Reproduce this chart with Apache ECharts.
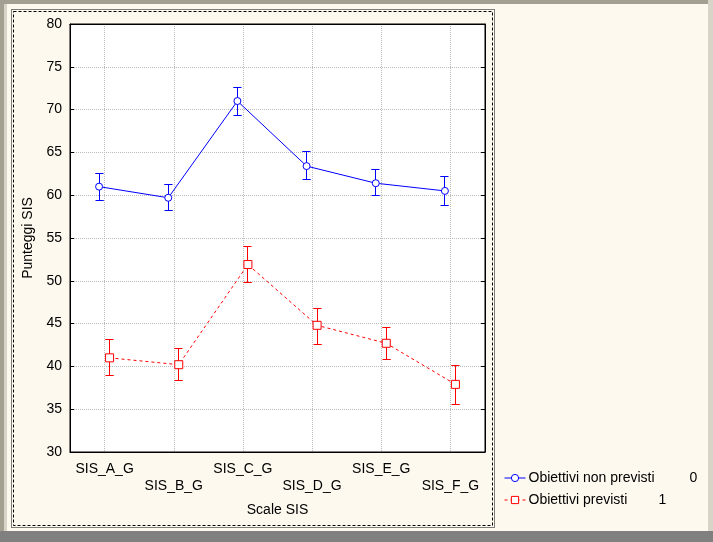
<!DOCTYPE html>
<html>
<head>
<meta charset="utf-8">
<script src="https://cdn.jsdelivr.net/npm/echarts@6/dist/echarts.min.js"></script>
<style>
  html, body { margin: 0; padding: 0; background: #fdf9ef; }
  #chart { width: 713px; height: 542px; }
</style>
</head>
<body>
<div id="chart"></div>
<script>
const categories = ['SIS_A_G', 'SIS_B_G', 'SIS_C_G', 'SIS_D_G', 'SIS_E_G', 'SIS_F_G'];
const yTicks = { min: 30, max: 80, interval: 5 };

const blueName = 'Obiettivi non previsti';
const blueCode = '0';
const blueMean = [61.0, 59.7, 71.0, 63.4, 61.4, 60.5];
const blueLow  = [59.4, 58.2, 69.3, 61.8, 60.0, 58.8];
const blueHigh = [62.5, 61.2, 72.6, 65.1, 63.0, 62.2];

const redName = 'Obiettivi previsti';
const redCode = '1';
const redMean = [41.0, 40.2, 51.9, 44.8, 42.7, 37.9];
const redLow  = [38.9, 38.3, 49.8, 42.6, 40.8, 35.5];
const redHigh = [43.1, 42.1, 54.0, 46.8, 44.5, 40.1];

const FONT = "'Liberation Sans', Arial, sans-serif";
const BLUE = '#0000ff';
const RED = '#ff0000';

const chart = echarts.init(document.getElementById('chart'), null, { renderer: 'canvas' });

function crisp(v) { return Math.round(v - 0.5) + 0.5; }

function errBars(color) {
  return function (params, api) {
    const x = api.value(0);
    const pLo = api.coord([x, api.value(1)]);
    const pHi = api.coord([x, api.value(2)]);
    const cx = crisp(pLo[0]);
    const yLo = crisp(pLo[1]), yHi = crisp(pHi[1]);
    const c = 4;
    return {
      type: 'polyline',
      shape: { points: [[cx - c, yLo], [cx + c, yLo], [cx, yLo], [cx, yHi], [cx - c, yHi], [cx + c, yHi]] },
      style: { stroke: color, fill: null, lineWidth: 1, opacity: 1 }
    };
  };
}

const gTop = 24, gBottom = 90, gLeft = 70, gRight = 228;
const shiftBlue = -5.5, shiftRed = 5;

function hiddenX(gi) {
  return { type: 'category', gridIndex: gi, data: categories, show: false };
}
function hiddenY(gi) {
  return { type: 'value', gridIndex: gi, min: yTicks.min, max: yTicks.max, interval: yTicks.interval, show: false };
}

const gridLine = { show: true, lineStyle: { color: '#bcbcbc', type: [1, 1], width: 1 } };

const option = {
  backgroundColor: '#fdf9ef',
  animation: false,
  textStyle: { fontFamily: FONT },
  graphic: [
    { type: 'rect', shape: { x: 0, y: 0, width: 713, height: 4 }, style: { fill: '#a3a091' }, z: 0 },
    { type: 'rect', shape: { x: 0, y: 0, width: 4, height: 542 }, style: { fill: '#a3a091' }, z: 0 },
    { type: 'rect', shape: { x: 4, y: 4, width: 3, height: 538 }, style: { fill: '#d8d4c8' }, z: 0 },
    { type: 'rect', shape: { x: 708, y: 0, width: 5, height: 542 }, style: { fill: '#d8d4c8' }, z: 0 },
    { type: 'rect', shape: { x: 0, y: 531, width: 713, height: 11 }, style: { fill: '#808080' }, z: 0 },
    { type: 'rect', shape: { x: 11.5, y: 9.5, width: 483, height: 518 }, style: { fill: null, stroke: '#000', lineWidth: 1, lineDash: [1, 1] }, z: 1 },
    { type: 'rect', shape: { x: 13.5, y: 11.5, width: 479, height: 514 }, style: { fill: null, stroke: '#000', lineWidth: 1, lineDash: [3, 2] }, z: 1 }
  ],
  grid: [
    { left: gLeft, right: gRight, top: gTop, bottom: gBottom, show: true, backgroundColor: '#ffffff', borderColor: '#000', borderWidth: 1 },
    { left: gLeft + shiftBlue, right: gRight - shiftBlue, top: gTop, bottom: gBottom },
    { left: gLeft + shiftRed, right: gRight - shiftRed, top: gTop, bottom: gBottom }
  ],
  xAxis: [
    {
      type: 'category', gridIndex: 0, data: categories, position: 'bottom',
      name: 'Scale SIS', nameLocation: 'middle', nameGap: 51,
      nameTextStyle: { fontSize: 14, color: '#000', fontFamily: FONT },
      axisLine: { lineStyle: { color: '#000', width: 1 } },
      axisTick: { inside: true, length: 4, alignWithLabel: true, lineStyle: { color: '#000' } },
      splitLine: Object.assign({ alignWithLabel: true }, gridLine),
      axisLabel: {
        interval: 0, fontSize: 14, color: '#000', margin: 9, lineHeight: 17, fontFamily: FONT,
        formatter: function (v, i) { return i % 2 ? '\n' + v : v; }
      }
    },
    {
      type: 'category', gridIndex: 0, data: categories, position: 'top',
      axisLine: { lineStyle: { color: '#000', width: 1 } },
      axisTick: { inside: true, length: 4, alignWithLabel: true, lineStyle: { color: '#000' } },
      axisLabel: { show: false }, splitLine: { show: false }
    },
    hiddenX(1),
    hiddenX(2)
  ],
  yAxis: [
    {
      type: 'value', gridIndex: 0, min: yTicks.min, max: yTicks.max, interval: yTicks.interval,
      name: 'Punteggi SIS', nameLocation: 'middle', nameGap: 35,
      nameTextStyle: { fontSize: 14, color: '#000', fontFamily: FONT },
      axisLine: { show: true, lineStyle: { color: '#000', width: 1 } },
      axisTick: { show: true, inside: true, length: 4, lineStyle: { color: '#000' } },
      splitLine: gridLine,
      axisLabel: { fontSize: 14, color: '#000', margin: 8, fontFamily: FONT }
    },
    {
      type: 'value', gridIndex: 0, min: yTicks.min, max: yTicks.max, interval: yTicks.interval, position: 'right',
      axisLine: { show: true, lineStyle: { color: '#000', width: 1 } },
      axisTick: { show: true, inside: true, length: 4, lineStyle: { color: '#000' } },
      axisLabel: { show: false }, splitLine: { show: false }
    },
    hiddenY(1),
    hiddenY(2)
  ],
  legend: {
    orient: 'vertical', left: 499, top: 466, itemWidth: 21, itemHeight: 9, itemGap: 8,
    textStyle: { fontSize: 14, color: '#000', fontFamily: FONT, padding: [0, 0, 0, -2] },
    itemStyle: { color: '#ffffff', borderWidth: 1 },
    lineStyle: { width: 1 },
    formatter: function (name) {
      return name === blueName ? name + '         ' + blueCode : name + '        ' + redCode;
    },
    data: [blueName, redName]
  },
  series: [
    {
      type: 'custom', name: 'errBlue', xAxisIndex: 2, yAxisIndex: 2, z: 2,
      itemStyle: { color: BLUE }, silent: true,
      renderItem: errBars(BLUE),
      data: categories.map((c, i) => [i, blueLow[i], blueHigh[i]])
    },
    {
      type: 'custom', name: 'errRed', xAxisIndex: 3, yAxisIndex: 3, z: 2,
      itemStyle: { color: RED }, silent: true,
      renderItem: errBars(RED),
      data: categories.map((c, i) => [i, redLow[i], redHigh[i]])
    },
    {
      type: 'line', name: blueName, xAxisIndex: 2, yAxisIndex: 2, z: 3,
      data: blueMean, symbol: 'circle', symbolSize: 7,
      lineStyle: { color: BLUE, width: 1 },
      itemStyle: { color: '#ffffff', borderColor: BLUE, borderWidth: 1 }
    },
    {
      type: 'line', name: redName, xAxisIndex: 3, yAxisIndex: 3, z: 3,
      data: redMean, symbol: 'rect', symbolSize: 8,
      lineStyle: { color: RED, width: 1, type: [3, 3] },
      itemStyle: { color: '#ffffff', borderColor: RED, borderWidth: 1 }
    }
  ]
};
chart.setOption(option);
</script>
</body>
</html>
